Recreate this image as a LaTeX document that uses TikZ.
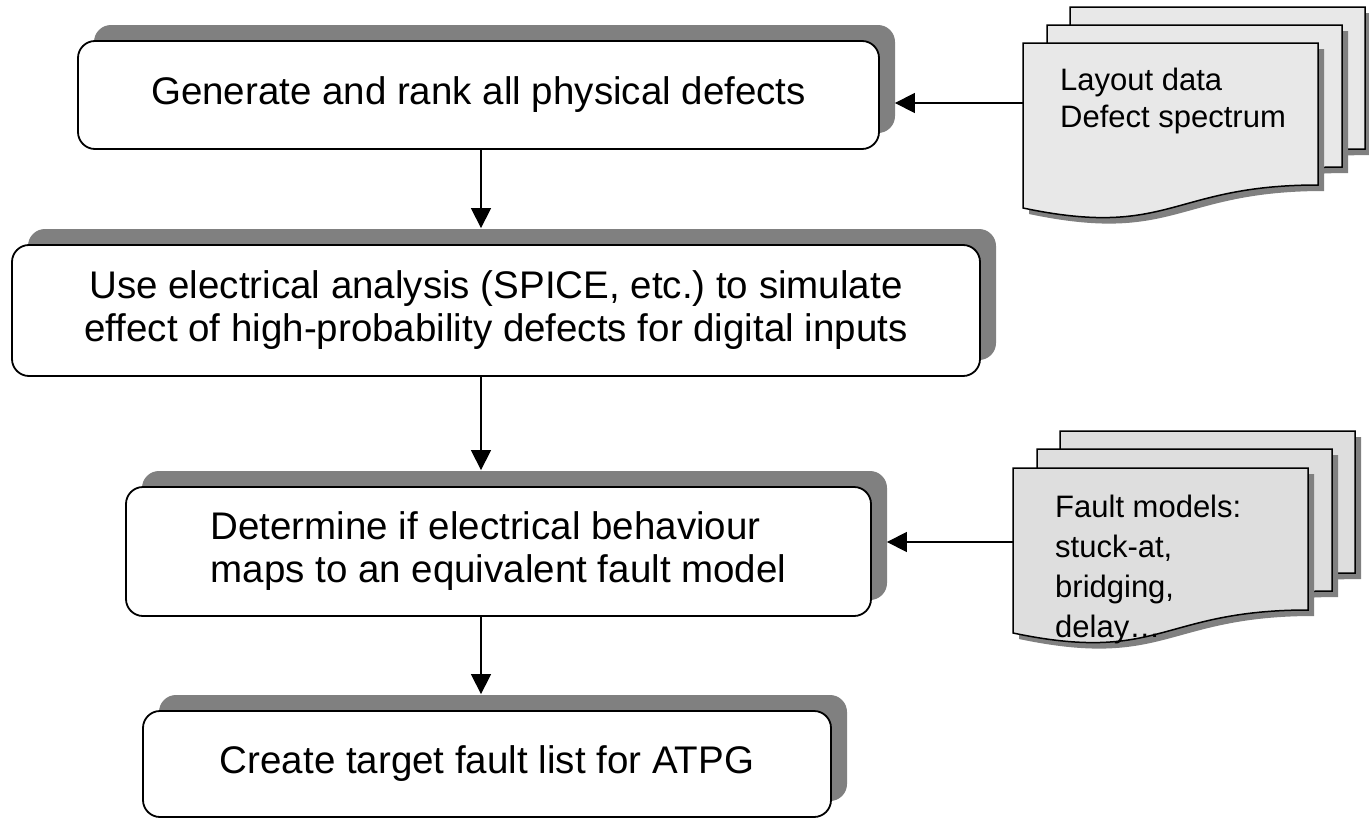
\documentclass[tikz,border=0pt]{standalone}
\usepackage{fontspec}
\setmainfont{Liberation Sans}
\usetikzlibrary{arrows.meta,shadows}
\frenchspacing
\begin{document}
\begin{tikzpicture}[x=1pt,y=-1pt,
  stepbox/.style={draw, line width=1.8pt, rounded corners=17pt, fill=white,
    align=center, inner sep=0pt, font=\fontsize{38.5}{43}\selectfont,
    drop shadow={shadow xshift=16pt, shadow yshift=16pt, fill=black!50, opacity=1}},
  link/.style={line width=1.3pt, -{Triangle[length=20pt,width=20pt]}},
  docsheet/.pic={
    \fill[black!50] (6,6) -- (301,6) -- (301,148)
      .. controls (153.5,148) and (153.5,202) .. (6,171) -- cycle;
    \path[draw=black, line width=1.5pt, pic actions] (0,0) -- (295,0) -- (295,142)
      .. controls (147.5,142) and (147.5,196) .. (0,165) -- cycle;
  },
  doctext/.style={align=left, anchor=west, inner sep=0pt}
]
\path[use as bounding box, fill=white] (0,0) rectangle (1369,819);

% stacked input documents
\pic[fill=black!9] at (1070,7) {docsheet};
\pic[fill=black!9] at (1047,25) {docsheet};
\pic[fill=black!9] at (1023,43) {docsheet};
\node[doctext, font=\fontsize{31}{37}\selectfont] (lay) at (1060,101)
  {Layout data\\Defect spectrum};

\pic[fill=black!13] at (1060,431) {docsheet};
\pic[fill=black!13] at (1037,449) {docsheet};
\pic[fill=black!13] at (1013,468) {docsheet};
\node[doctext, font=\fontsize{31}{40}\selectfont] (flt) at (1055,569)
  {Fault models:\\stuck-at,\\bridging,\\delay…};

% process steps
\node[stepbox, minimum width=801pt, minimum height=108pt] (gen) at (478.5,95)
  {Generate and rank all physical defects};
\node[stepbox, minimum width=968pt, minimum height=131pt] (sim) at (496,310.5)
  {Use electrical analysis (SPICE, etc.) to simulate\\effect of high-probability defects for digital inputs};
\node[stepbox, minimum width=745pt, minimum height=129pt, align=left] (map) at (498.5,551.5)
  {Determine if electrical behaviour\\maps to an equivalent fault model};
\node[stepbox, minimum width=688pt, minimum height=106pt] (lst) at (487,764)
  {Create target fault list for ATPG};

% connectors
\coordinate (ax) at (481,0);
\coordinate (layin) at (1023,103);
\coordinate (fltin) at (1013,542);
\coordinate (genR) at ([xshift=15pt]gen.east);
\coordinate (mapR) at ([xshift=15pt]map.east);
\coordinate (simT) at ([yshift=16pt]sim.north);
\coordinate (mapT) at ([yshift=16pt]map.north);
\coordinate (lstT) at ([yshift=16pt]lst.north);

\draw[link] (layin) -- (genR |- layin);
\draw[link] (fltin) -- (mapR |- fltin);
\draw[link] (gen.south -| ax) -- (simT -| ax);
\draw[link] (sim.south -| ax) -- (mapT -| ax);
\draw[link] (map.south -| ax) -- (lstT -| ax);
\end{tikzpicture}
\end{document}
